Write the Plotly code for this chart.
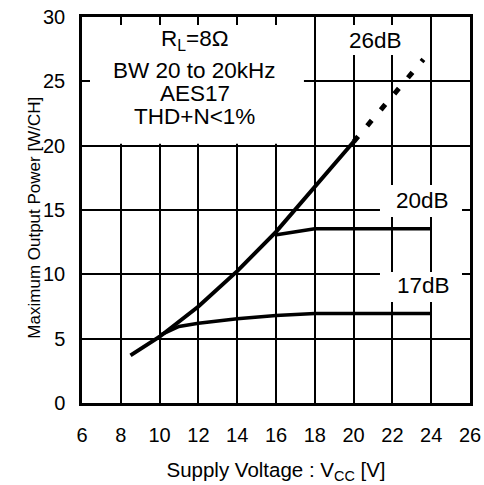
import plotly.graph_objects as go

# curve data
main_vcc = [8.5, 10, 12, 14, 16, 18, 20]
main_pwr = [3.7, 5.15, 7.5, 10.25, 13.3, 16.8, 20.3]

dash_vcc = [20, 23.6]
dash_pwr = [20.3, 26.7]

db20_vcc = [15.95, 18, 20, 22, 24]
db20_pwr = [13.05, 13.55, 13.55, 13.55, 13.55]

db17_vcc = [10, 11, 12, 14, 16, 18, 20, 22, 24]
db17_pwr = [5.25, 5.95, 6.2, 6.55, 6.8, 6.95, 6.95, 6.95, 6.95]

x_ticks = [6, 8, 10, 12, 14, 16, 18, 20, 22, 24, 26]
y_ticks = [0, 5, 10, 15, 20, 25, 30]

cond_lines = ["R<sub>L</sub>=8Ω", "BW 20 to 20kHz", "AES17", "THD+N<1%"]
cond_y = [28.2, 25.85, 24.05, 22.25]

FONT = "Liberation Sans, Arial, sans-serif"

fig = go.Figure()

# 26dB (solid then dotted extrapolation)
fig.add_trace(go.Scatter(x=main_vcc, y=main_pwr, mode="lines",
                         line=dict(color="black", width=4), showlegend=False))
fig.add_trace(go.Scatter(x=dash_vcc, y=dash_pwr, mode="lines",
                         line=dict(color="black", width=5, dash="7px,14px"),
                         showlegend=False))
# 20dB
fig.add_trace(go.Scatter(x=db20_vcc, y=db20_pwr, mode="lines",
                         line=dict(color="black", width=3.5), showlegend=False))
# 17dB
fig.add_trace(go.Scatter(x=db17_vcc, y=db17_pwr, mode="lines",
                         line=dict(color="black", width=3.5), showlegend=False))

# white boxes behind the labels, hiding the grid
masks = [
    (6, 17.44, 20.15, 30),
    (19.3, 22.9, 27.05, 30),
    (21.36, 25.74, 14.45, 16.94),
    (21.36, 25.74, 7.85, 10.18),
]
for x0, x1, y0, y1 in masks:
    fig.add_shape(type="rect", x0=x0, x1=x1, y0=y0, y1=y1, xref="x", yref="y",
                  fillcolor="white", line=dict(width=0), layer="between")

for txt, yy in zip(cond_lines, cond_y):
    fig.add_annotation(x=11.8, y=yy, xref="x", yref="y", showarrow=False, text=txt,
                       font=dict(size=22.5, color="black", family=FONT))
fig.add_annotation(x=21.15, y=28.2, text="26dB", showarrow=False,
                   font=dict(size=22.5, color="black", family=FONT))
fig.add_annotation(x=23.55, y=15.7, text="20dB", showarrow=False,
                   font=dict(size=22.5, color="black", family=FONT))
fig.add_annotation(x=23.58, y=9.1, text="17dB", showarrow=False,
                   font=dict(size=22.5, color="black", family=FONT))

# y title as a rotated annotation (sits a bit below the plot centre)
fig.add_annotation(x=-0.152, y=0.479, xref="paper", yref="paper", showarrow=False,
                   text="Maximum Output Power [W/CH]", textangle=-90,
                   font=dict(size=17, color="black", family=FONT))

axis_common = dict(showgrid=True, gridcolor="black", gridwidth=2, automargin=False,
                   showline=True, linecolor="black", linewidth=2.5, mirror="ticks",
                   ticks="inside", ticklen=8, tickwidth=2, tickcolor="black",
                   ticklabeloverflow="allow", zeroline=False,
                   tickfont=dict(size=20, color="black", family=FONT))

fig.update_xaxes(range=[6, 26], tickvals=x_ticks, ticklabelstandoff=12,
                 title=dict(text="Supply Voltage : V<sub>CC</sub> [V]", standoff=18,
                            font=dict(size=20.5, color="black", family=FONT)),
                 **axis_common)
fig.update_yaxes(range=[0, 30], tickvals=y_ticks, ticklabelstandoff=10,
                 **axis_common)

fig.update_layout(width=484, height=485, plot_bgcolor="white", paper_bgcolor="white",
                  margin=dict(l=82, r=14, t=17, b=82))

# drop the default 8px body margin so the figure fills the window
fig.write_html("out.html", config={"displayModeBar": False},
               post_script="document.body.style.margin='0';")
